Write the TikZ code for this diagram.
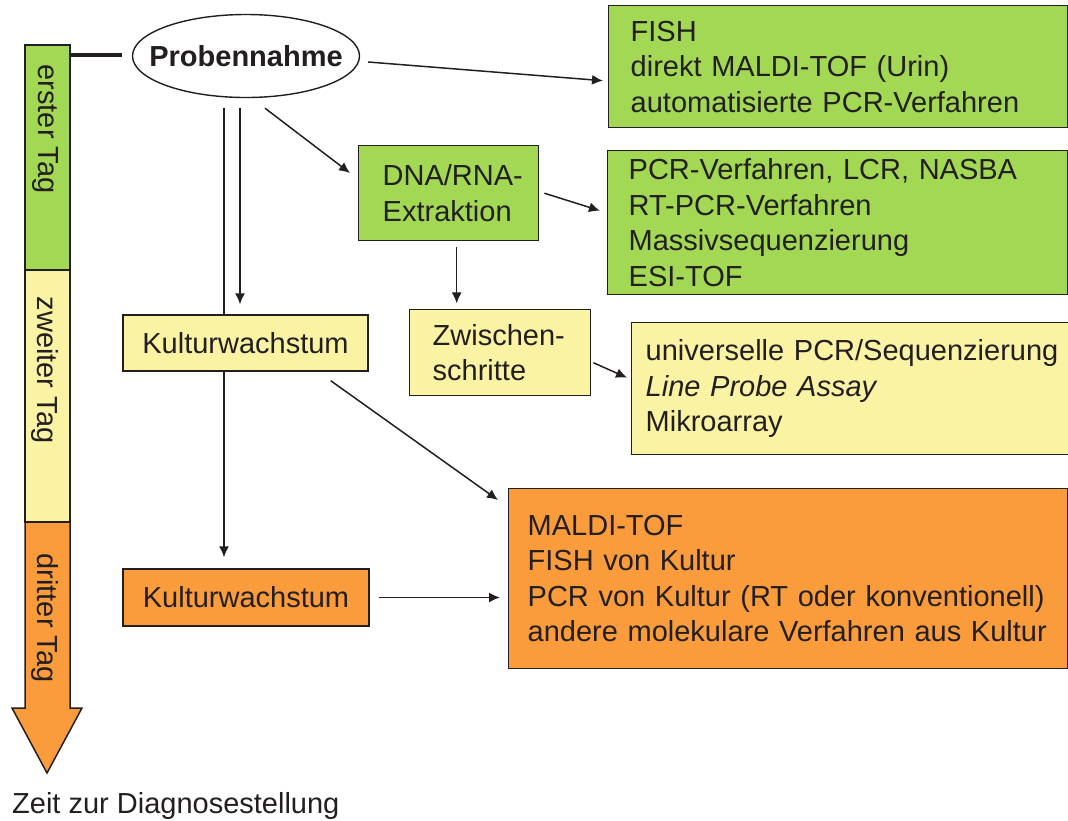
\documentclass[tikz,border=0pt]{standalone}
\usepackage{fontspec}
\setmainfont{Liberation Sans}
\usepackage{xcolor}
\usepackage{tikz}
\usetikzlibrary{calc,positioning,shapes.geometric,arrows.meta}

\definecolor{tagGreen}{RGB}{162,216,84}
\definecolor{tagYellow}{RGB}{251,243,164}
\definecolor{tagOrange}{RGB}{250,156,60}
\definecolor{inkGray}{RGB}{35,31,32}
\newcommand{\diafont}{\fontsize{29}{35.5}\selectfont}

\tikzset{
	kasten/.style={draw=inkGray, line width=1.4pt, text=inkGray, inner ysep=0pt, font=\diafont},
	liste/.style={kasten, anchor=north west, align=left},
	pfeil/.style={draw=inkGray, line width=1.5pt, -{Latex[length=11pt,width=10pt]}},
	linie/.style={draw=inkGray, line width=1.5pt},
	tagtext/.style={rotate=-90, text=inkGray, font=\diafont, inner sep=0pt}
}

\begin{document}
\begin{tikzpicture}[x=1pt,y=-1pt]
	\useasboundingbox (0,0) rectangle (1068,820);
	\clip (0,0) rectangle (1068,820);
	% Zeitachse
	\draw[linie, fill=tagGreen] (25,45) rectangle (70,270);
	\draw[linie, fill=tagYellow] (25,270) rectangle (70,522);
	\draw[linie, fill=tagOrange] (25,522) -- (70,522) -- (70,708) -- (82,708) -- (47,773) -- (12,708) -- (25,708) -- cycle;
	\node[tagtext] (tagErster) at (45,129) {erster Tag};
	\node[tagtext] (tagZweiter) at (45,370) {zweiter Tag};
	\node[tagtext] (tagDritter) at (45,618) {dritter Tag};
	\node[anchor=base west, inner sep=0pt, text=inkGray, font=\diafont] (lblZeit) at (12,813) {Zeit zur Diagnosestellung};
	\coordinate (barTop) at (70,55);

	% Kaesten
	\node[kasten, ellipse, fill=white, minimum width=227, minimum height=83, inner xsep=-20pt, inner ysep=0pt, font=\diafont\bfseries] (ellProbe) at (246,56) {Probennahme};
	\node[liste, fill=tagGreen, inner xsep=22, text width=415, minimum height=122] (bFish) at (608,5)
		{FISH\\direkt MALDI-TOF (Urin)\\automatisierte PCR-Verfahren};
	\node[liste, fill=tagGreen, inner xsep=24, text width=132, minimum height=95] (bDna) at (358,145)
		{\mbox{DNA/RNA-}\\Extraktion};
	\node[liste, fill=tagGreen, inner xsep=21, text width=418, minimum height=144] (bPcr) at (607,150)
		{PCR-Verfahren, LCR, NASBA\\RT-PCR-Verfahren\\Massivsequenzierung\\ESI-TOF};
	\node[liste, fill=tagYellow, inner xsep=23, text width=135, minimum height=86] (bZwi) at (409,309)
		{Zwischen-\\schritte};
	\node[liste, fill=tagYellow, inner xsep=14, text width=431, minimum height=132] (bUni) at (631,322)
		{universelle PCR/Sequenzierung\\\textit{Line Probe Assay}\\Mikroarray};
	\node[kasten, fill=tagYellow, minimum width=245, minimum height=56] (bKul1) at (245.5,343) {Kulturwachstum};
	\node[kasten, fill=tagOrange, minimum width=246, minimum height=57] (bKul2) at (246,597.5) {Kulturwachstum};
	\node[liste, fill=tagOrange, inner xsep=19, text width=521, minimum height=180] (bMaldi) at (508,488)
		{MALDI-TOF\\FISH von Kultur\\PCR von Kultur (RT oder konventionell)\\andere molekulare Verfahren aus Kultur};

	% Verbindungen
	\draw[linie, line width=3.5pt] (barTop) -- ($(ellProbe.west)+(-10,-1)$);
	\draw[pfeil] ($(ellProbe.east)+(8,6)$) -- ($(bFish.west)+(-5,14)$);
	\draw[linie] ($(ellProbe.south)+(-22,10)$) -- ($(bKul1.north)+(-21.5,0)$);
	\draw[pfeil] ($(ellProbe.south)+(-6,10)$) -- ($(bKul1.north)+(-5.5,-10)$);
	\draw[pfeil] ($(ellProbe.south)+(19,10)$) -- ($(bDna.north west)+(-8,28)$);
	\draw[pfeil] ($(bDna.east)+(5,0)$) -- ($(bPcr.west)+(-7,-12)$);
	\draw[pfeil] ($(bDna.south)+(8,6)$) -- ++(0,56);
	\draw[pfeil] ($(bZwi.east)+(2,10)$) -- ($(bUni.west)+(-4,-11)$);
	\draw[pfeil] ($(bKul1.south)+(-21.5,0)$) -- ($(bKul2.north)+(-22,-11)$);
	\draw[pfeil] ($(bKul1.south east)+(-38,9)$) -- ($(bMaldi.north west)+(-10,12)$);
	\draw[pfeil] ($(bKul2.east)+(9,0)$) -- ($(bKul2.east -| bMaldi.west)+(-8,0)$);
\end{tikzpicture}
\end{document}
